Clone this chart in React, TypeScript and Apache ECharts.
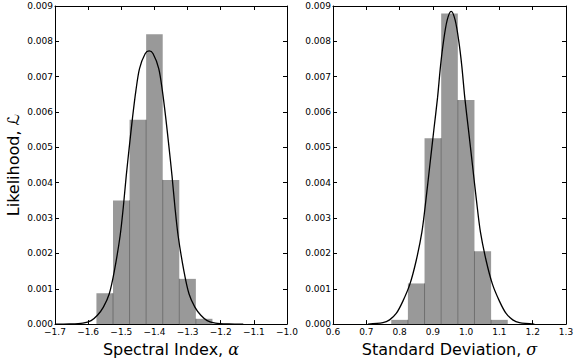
import React, { useEffect, useRef } from "react";
import * as echarts from "echarts";

// Histogram bin edges and heights
const alphaEdges = [-1.575, -1.525, -1.475, -1.425, -1.375, -1.325, -1.275, -1.225];
const alphaHeights = [0.00087, 0.0035, 0.00578, 0.0082, 0.00408, 0.00128, 0.00015];
const sigmaEdges = [0.775, 0.825, 0.875, 0.925, 0.975, 1.025, 1.075, 1.125];
const sigmaHeights = [0.00012, 0.00115, 0.00526, 0.00879, 0.00634, 0.00206, 0.00012];

// Fitted curves
const alphaCurveX = [-1.7, -1.656, -1.616, -1.591, -1.572, -1.554, -1.5365, -1.521, -1.5035, -1.494, -1.485, -1.476, -1.466, -1.456, -1.445, -1.428, -1.416, -1.404, -1.387, -1.376, -1.366, -1.356, -1.347, -1.338, -1.3285, -1.311, -1.2955, -1.278, -1.26, -1.241, -1.216, -1.176, -1.132];
const alphaCurveY = [0, 0.000005, 0.00003, 0.0001, 0.00025, 0.00048, 0.00085, 0.0015, 0.0025, 0.0033, 0.0042, 0.005, 0.00585, 0.0066, 0.00723, 0.00765, 0.00773, 0.00765, 0.00723, 0.0066, 0.00585, 0.005, 0.0042, 0.0033, 0.0025, 0.0015, 0.00085, 0.00048, 0.00025, 0.0001, 0.00003, 0.000005, 0];
const sigmaCurveX = [0.705, 0.75, 0.77, 0.79, 0.81, 0.831, 0.85, 0.867, 0.879, 0.891, 0.903, 0.914, 0.923, 0.932, 0.943, 0.955, 0.967, 0.978, 0.987, 0.996, 1.007, 1.019, 1.031, 1.043, 1.06, 1.079, 1.1, 1.12, 1.14, 1.16, 1.205];
const sigmaCurveY = [0, 0.00004, 0.00012, 0.0003, 0.00065, 0.00113, 0.0018, 0.0026, 0.0035, 0.0045, 0.0055, 0.0064, 0.0073, 0.008, 0.0086, 0.00885, 0.0086, 0.008, 0.0073, 0.0064, 0.0055, 0.0045, 0.0035, 0.0026, 0.0018, 0.00113, 0.00065, 0.0003, 0.00012, 0.00004, 0];

const alphaTicks = { min: -1.7, max: -1.0, interval: 0.1 };
const sigmaTicks = { min: 0.6, max: 1.3, interval: 0.1 };
const yTicks = { min: 0, max: 0.009, interval: 0.001 };

const FONT = "DejaVu Sans";

function barData(edges: number[], heights: number[]) {
  return heights.map((h, i) => [edges[i], edges[i + 1], h]);
}
function dividerData(edges: number[], heights: number[]) {
  const out: number[][] = [];
  for (let i = 1; i < heights.length; i++) out.push([edges[i], Math.min(heights[i - 1], heights[i])]);
  return out;
}
function curveData(xs: number[], ys: number[]) {
  return xs.map((x, i) => [x, ys[i]]);
}

export default function App() {
  const ref = useRef<HTMLDivElement>(null);
  useEffect(() => {
    document.body.style.margin = "0";
    const chart = echarts.init(ref.current!, null, { renderer: "svg" });
    const minus = (s: string) => s.replace("-", "\u2212");
    const xLabel = (v: number) => minus(v.toFixed(1));
    const yLabel = (v: number) => v.toFixed(3);
    const grids = [
      { left: 55, top: 6, width: 232, height: 327 },
      { left: 333, top: 6, width: 233, height: 327 },
    ];
    const tickStyle = { show: true, inside: true, length: 4, lineStyle: { color: "#000", width: 1 } };
    const lineStyle = { show: true, onZero: false, lineStyle: { color: "#000", width: 1 } };
    const labelStyle = { color: "#000", fontFamily: FONT, fontSize: 9 };
    const nameStyle = {
      color: "#000",
      fontFamily: FONT,
      fontSize: 16,
      rich: { a: { fontFamily: "DejaVu Serif", fontStyle: "italic", fontSize: 16, color: "#000" } },
    };
    const xAxes: any[] = [];
    const yAxes: any[] = [];
    const xDefs = [
      { t: alphaTicks, name: "Spectral Index, {a|\u03b1}" },
      { t: sigmaTicks, name: "Standard Deviation, {a|\u03c3}" },
    ];
    xDefs.forEach((d, g) => {
      xAxes.push({
        type: "value", gridIndex: g, position: "bottom", ...d.t,
        name: d.name, nameLocation: "middle", nameGap: 9, nameTextStyle: nameStyle,
        axisLine: lineStyle, axisTick: tickStyle, splitLine: { show: false },
        axisLabel: { ...labelStyle, margin: 3, formatter: xLabel, showMinLabel: true, showMaxLabel: true },
      });
      xAxes.push({
        type: "value", gridIndex: g, position: "top", ...d.t,
        axisLine: lineStyle, axisTick: tickStyle, splitLine: { show: false }, axisLabel: { show: false },
      });
      yAxes.push({
        type: "value", gridIndex: g, position: "left", ...yTicks,
        name: g === 0 ? "Likelihood, \u2112" : "", nameLocation: "middle", nameGap: 34, nameTextStyle: nameStyle,
        axisLine: lineStyle, axisTick: tickStyle, splitLine: { show: false },
        axisLabel: { ...labelStyle, margin: 2, formatter: yLabel, showMinLabel: true, showMaxLabel: true },
      });
      yAxes.push({
        type: "value", gridIndex: g, position: "right", ...yTicks,
        axisLine: lineStyle, axisTick: tickStyle, splitLine: { show: false }, axisLabel: { show: false },
      });
    });

    const bars = [barData(alphaEdges, alphaHeights), barData(sigmaEdges, sigmaHeights)];
    const dividers = [dividerData(alphaEdges, alphaHeights), dividerData(sigmaEdges, sigmaHeights)];
    const curves = [curveData(alphaCurveX, alphaCurveY), curveData(sigmaCurveX, sigmaCurveY)];
    const series: any[] = [];
    [0, 1].forEach((g) => {
      series.push({
        type: "custom", xAxisIndex: g * 2, yAxisIndex: g * 2, z: 2,
        data: bars[g],
        encode: { x: [0, 1], y: 2 },
        renderItem: (_p: any, api: any) => {
          const p0 = api.coord([api.value(0), api.value(2)]);
          const p1 = api.coord([api.value(1), 0]);
          return {
            type: "rect",
            shape: { x: p0[0], y: p0[1], width: p1[0] - p0[0], height: p1[1] - p0[1] },
            style: { fill: "#999999" },
          };
        },
      });
      series.push({
        type: "custom", xAxisIndex: g * 2, yAxisIndex: g * 2, z: 3,
        data: dividers[g],
        encode: { x: 0, y: 1 },
        renderItem: (_p: any, api: any) => {
          const p0 = api.coord([api.value(0), api.value(1)]);
          const p1 = api.coord([api.value(0), 0]);
          return {
            type: "line",
            shape: { x1: p0[0], y1: p0[1], x2: p1[0], y2: p1[1] },
            style: { stroke: "#6e6e6e", lineWidth: 1 },
          };
        },
      });
      series.push({
        type: "line", xAxisIndex: g * 2, yAxisIndex: g * 2, z: 4,
        data: curves[g], smooth: 0.3, showSymbol: false, symbol: "none",
        lineStyle: { color: "#000", width: 1.3 },
      });
    });

    chart.setOption({
      animation: false,
      backgroundColor: "#fff",
      grid: grids,
      xAxis: xAxes,
      yAxis: yAxes,
      series,
    });
    return () => chart.dispose();
  }, []);
  return <div ref={ref} style={{ width: 581, height: 362 }} />;
}
